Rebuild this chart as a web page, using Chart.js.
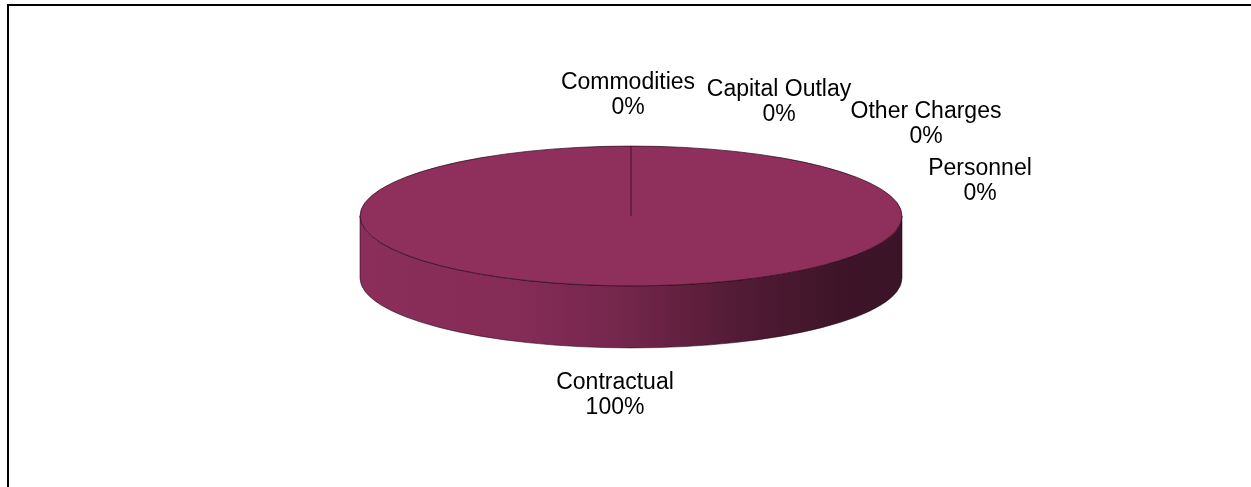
<!DOCTYPE html>
<html>
<head>
<meta charset="utf-8">
<script src="https://cdn.jsdelivr.net/npm/chart.js@4.4.1/dist/chart.umd.min.js"></script>
<style>
  html, body { margin: 0; padding: 0; background: #fff; overflow: hidden; }
  #frame {
    position: absolute; left: 7px; top: 4px; width: 1300px; height: 600px;
    border-top: 2px solid #000; border-left: 2px solid #000;
  }
  #chart { position: absolute; left: 0; top: 0; }
</style>
</head>
<body>
<div id="frame"></div>
<canvas id="chart" width="1251" height="487"></canvas>
<script>
// Budget split by category (percent of total)
const CATEGORIES = ['Personnel', 'Contractual', 'Commodities', 'Capital Outlay', 'Other Charges'];
const VALUES = [0, 100, 0, 0, 0];
const COLORS = ['#2E4C8E', '#8E2F5C', '#D9C27A', '#5E8E3A', '#4A8FA8'];

// label anchors: centre x and baseline of the first line
const LABEL_POS = [
  { x: 980, y: 175 },
  { x: 615, y: 389 },
  { x: 628, y: 89 },
  { x: 779, y: 96 },
  { x: 926, y: 118 }
];
const LINE_GAP = 25;

// projection of the pie into a tilted disc
const PIE = { cx: 631, cy: 216, rx: 271, tilt: 0.258, depth: 62 };

function shade(hex, f) {
  const n = parseInt(hex.slice(1), 16);
  const r = Math.round(((n >> 16) & 255) * f);
  const g = Math.round(((n >> 8) & 255) * f);
  const b = Math.round((n & 255) * f);
  return `rgb(${r},${g},${b})`;
}

// parts of [s, e] that lie on the front (lower) half of the disc
function frontSpans(s, e) {
  const out = [];
  for (let k = -1; k <= 1; k++) {
    const lo = Math.max(s, 2 * Math.PI * k);
    const hi = Math.min(e, Math.PI + 2 * Math.PI * k);
    if (hi > lo) out.push([lo - 2 * Math.PI * k, hi - 2 * Math.PI * k]);
  }
  return out;
}

const pie3d = {
  id: 'pie3d',
  beforeDatasetsDraw(chart) {
    const ctx = chart.ctx;
    const arcs = chart.getDatasetMeta(0).data;
    const ry = PIE.rx * PIE.tilt;
    const { cx, cy, rx, depth } = PIE;

    arcs.forEach((arc, i) => {
      const { startAngle, endAngle } = arc.getProps(['startAngle', 'endAngle']);
      if (endAngle - startAngle <= 0) return;
      const base = COLORS[i];
      frontSpans(startAngle, endAngle).forEach(([t0, t1]) => {
        const grad = ctx.createLinearGradient(cx - rx, 0, cx + rx, 0);
        grad.addColorStop(0, shade(base, 0.98));
        grad.addColorStop(0.3, shade(base, 0.93));
        grad.addColorStop(0.5, shade(base, 0.8));
        grad.addColorStop(0.7, shade(base, 0.58));
        grad.addColorStop(0.88, shade(base, 0.44));
        grad.addColorStop(1, shade(base, 0.42));
        ctx.save();
        ctx.beginPath();
        ctx.ellipse(cx, cy, rx, ry, 0, t0, t1, false);
        ctx.ellipse(cx, cy + depth, rx, ry, 0, t1, t0, true);
        ctx.closePath();
        ctx.fillStyle = grad;
        ctx.fill();
        ctx.lineWidth = 1;
        ctx.strokeStyle = 'rgba(30,8,18,0.55)';
        ctx.stroke();
        ctx.restore();
      });
    });

    // squash the library's round pie onto the top face
    const a0 = arcs[0];
    ctx.save();
    ctx.translate(cx, cy);
    ctx.scale(rx / a0.outerRadius, ry / a0.outerRadius);
    ctx.translate(-a0.x, -a0.y);
  },
  afterDatasetsDraw(chart) {
    const ctx = chart.ctx;
    ctx.restore();
    const arcs = chart.getDatasetMeta(0).data;
    const ry = PIE.rx * PIE.tilt;
    const { cx, cy, rx } = PIE;

    // rim of the top face
    ctx.save();
    ctx.beginPath();
    ctx.ellipse(cx, cy, rx, ry, 0, 0, Math.PI * 2);
    ctx.lineWidth = 1;
    ctx.strokeStyle = 'rgba(40,10,25,0.7)';
    ctx.stroke();

    // slice edges
    const seen = new Set();
    ctx.strokeStyle = '#5a1c39';
    ctx.lineWidth = 1.5;
    arcs.forEach(arc => {
      const { startAngle, endAngle } = arc.getProps(['startAngle', 'endAngle']);
      [startAngle, endAngle].forEach(a => {
        const key = (((a % (2 * Math.PI)) + 2 * Math.PI) % (2 * Math.PI)).toFixed(4);
        if (seen.has(key)) return;
        seen.add(key);
        ctx.beginPath();
        ctx.moveTo(cx, cy);
        ctx.lineTo(cx + rx * Math.cos(a), cy + ry * Math.sin(a));
        ctx.stroke();
      });
    });

    // category + percent labels
    const total = VALUES.reduce((s, v) => s + v, 0);
    ctx.font = '23px "Liberation Sans", Arial, sans-serif';
    ctx.fillStyle = '#000';
    ctx.textAlign = 'center';
    ctx.textBaseline = 'alphabetic';
    CATEGORIES.forEach((name, i) => {
      const p = LABEL_POS[i];
      const pct = Math.round(VALUES[i] / total * 100) + '%';
      ctx.fillText(name, p.x, p.y);
      ctx.fillText(pct, p.x, p.y + LINE_GAP);
    });
    ctx.restore();
  }
};

new Chart(document.getElementById('chart'), {
  type: 'pie',
  data: {
    labels: CATEGORIES,
    datasets: [{
      data: VALUES,
      backgroundColor: COLORS,
      borderWidth: 0,
      hoverOffset: 0
    }]
  },
  options: {
    responsive: false,
    animation: false,
    devicePixelRatio: 1,
    events: [],
    layout: { padding: 20 },
    plugins: {
      legend: { display: false },
      tooltip: { enabled: false }
    }
  },
  plugins: [pie3d]
});
</script>
</body>
</html>
